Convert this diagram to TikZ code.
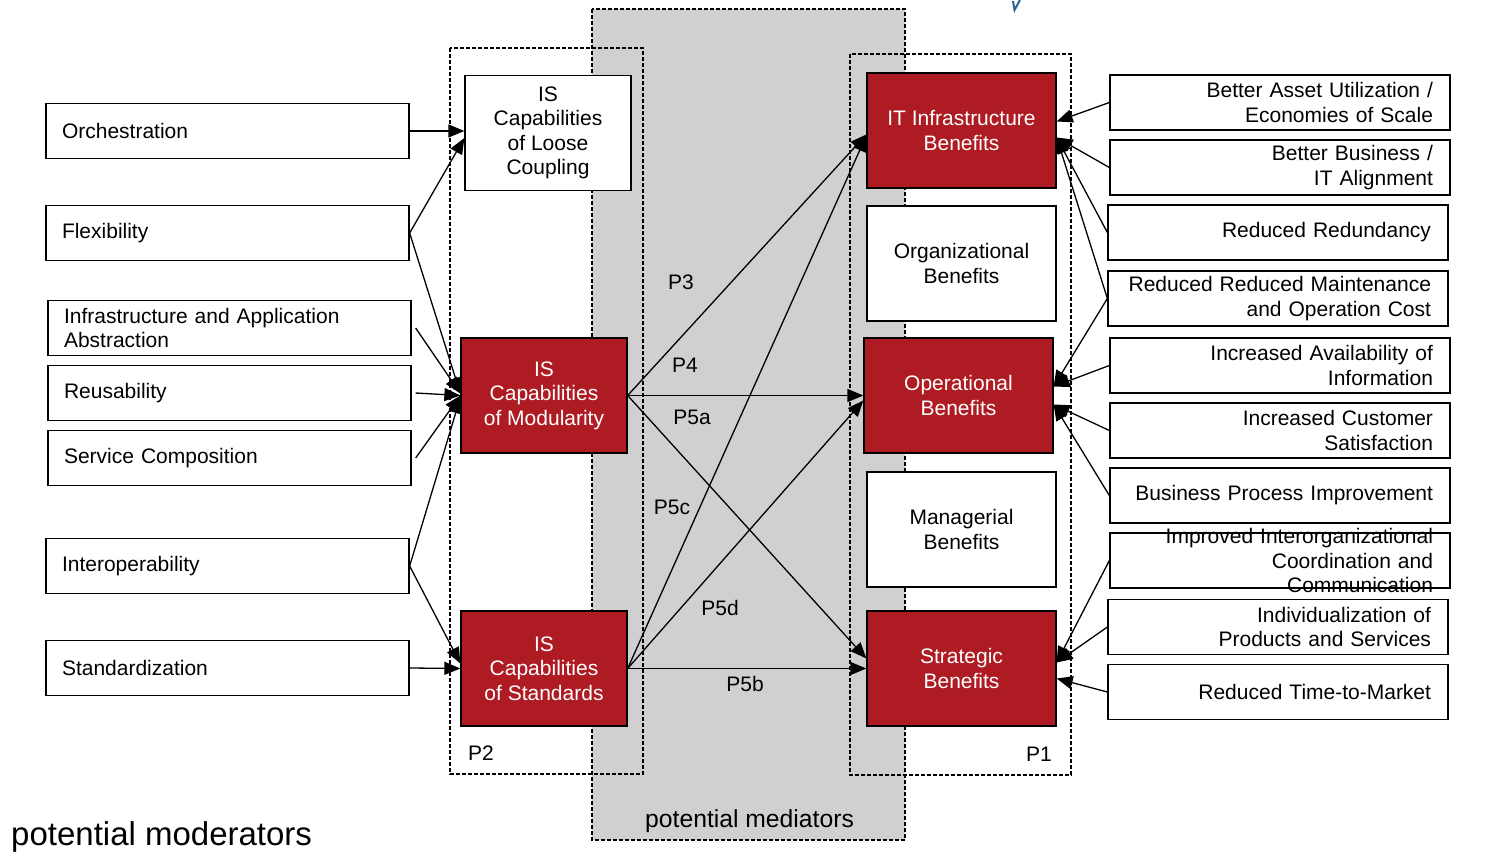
\documentclass[tikz,border=0pt]{standalone}
\usepackage{fontspec}
\setmainfont{Liberation Sans}
\usetikzlibrary{positioning,arrows.meta}
\definecolor{capred}{RGB}{174,27,35}
\definecolor{medgrey}{RGB}{208,208,208}
\definecolor{penblue}{RGB}{40,100,150}

\begin{document}
\begin{tikzpicture}
[x=1pt, y=-1pt, on grid, node distance=65pt,
 font=\fontsize{21}{24.5}\selectfont,
 box/.style={draw, fill=white, line width=1.3pt, inner ysep=0pt},
 factor/.style={box, minimum height=55pt, text width=331pt, inner xsep=16pt, align=left},
 effect/.style={box, minimum height=55pt, text width=306pt, inner xsep=17pt, align=right},
 capab/.style={box, minimum width=166pt, minimum height=115pt, align=center},
 benefit/.style={box, minimum width=189pt, minimum height=115pt, align=center},
 hilite/.style={fill=capred, text=white},
 conn/.style={-{Triangle[length=16pt,width=13pt]}, line width=1.3pt},
 zone/.style={draw, line width=1.2pt, dash pattern=on 4pt off 2pt}]

\useasboundingbox (0,0) rectangle (1498,858);

\fill[medgrey] (592,9) rectangle (905,840);
\draw[zone] (592,9) rectangle (905,840);
\draw[zone] (450,48) rectangle (643,774);
\draw[zone] (850,54) rectangle (1071,775);

\node[factor] (orch) at (227.5,131) {Orchestration};
\node[factor, below=102pt of orch] (flex) {Flexibility};
\node[factor, below=95pt of flex, xshift=2pt] (abstr) {Infrastructure and Application\\Abstraction};
\node[factor, below=of abstr] (reuse) {Reusability};
\node[factor, below=of reuse] (servcomp) {Service Composition};
\node[factor, below=108pt of servcomp, xshift=-2pt] (interop) {Interoperability};
\node[factor, below=102pt of interop] (standard) {Standardization};

\node[capab] (loose) at (548,133) {IS\\Capabilities\\of Loose\\Coupling};
\node[capab, hilite] (modul) at (544,395.5) {IS\\Capabilities\\of Modularity};
\node[capab, hilite, below=273pt of modul] (stds) {IS\\Capabilities\\of Standards};

\node[benefit, hilite] (itinfra) at (961.5,130.5) {IT Infrastructure\\Benefits};
\node[benefit, below=133pt of itinfra] (orga) {Organizational\\Benefits};
\node[benefit, hilite, below=132pt of orga, xshift=-3pt] (oper) {Operational\\Benefits};
\node[benefit, below=134pt of oper, xshift=3pt] (manag) {Managerial\\Benefits};
\node[benefit, hilite, below=139pt of manag] (strat) {Strategic\\Benefits};

\node[effect] (asset) at (1280,102.5) {Better Asset Utilization /\\Economies of Scale};
\node[effect, below=of asset] (alignm) {Better Business /\\IT Alignment};
\node[effect, below=of alignm, xshift=-2pt] (redund) {Reduced Redundancy};
\node[effect, below=66pt of redund] (maint) {Reduced Reduced Maintenance\\and Operation Cost};
\node[effect, below=67pt of maint, xshift=2pt] (avail) {Increased Availability of\\Information};
\node[effect, below=of avail] (custom) {Increased Customer\\Satisfaction};
\node[effect, below=of custom] (bpi) {Business Process Improvement};
\node[effect, below=of bpi] (interorg) {};
\node[text width=306pt, inner xsep=17pt, align=right] (interorgtext) at (interorg) {Improved Interorganizational\\Coordination and\\Communication};
\node[effect, below=66.5pt of interorg, xshift=-2pt] (indiv) {Individualization of\\Products and Services};
\node[effect, below=of indiv] (ttm) {Reduced Time-to-Market};

\draw[conn] (orch.east) -- ([yshift=2pt]loose.west);
\draw[conn] (flex.east) -- ([yshift=-5pt]loose.west);
\draw[conn] (flex.east) -- ([yshift=2pt]modul.west);
\draw[conn] ([xshift=4pt]abstr.east) -- ([yshift=2pt]modul.west);
\draw[conn] ([xshift=4pt]reuse.east) -- (modul.west);
\draw[conn] ([xshift=4pt]servcomp.east) -- (modul.west);
\draw[conn] (interop.east) -- ([yshift=-2pt]modul.west);
\draw[conn] (interop.east) -- ([yshift=5pt]stds.west);
\draw[conn] (standard.east) -- (stds.west);

\draw[conn] (modul.east) -- ([yshift=-4pt]itinfra.west);
\draw[conn] (modul.east) -- (oper.west);
\draw[conn] (modul.east) -- ([yshift=10pt]strat.west);
\draw[conn] (stds.east) -- ([yshift=-5pt]itinfra.west);
\draw[conn] (stds.east) -- ([yshift=-5pt]oper.west);
\draw[conn] (stds.east) -- (strat.west);

\draw[conn] (asset.west) -- ([yshift=9pt]itinfra.east);
\draw[conn] (alignm.west) -- ([yshift=-7pt]itinfra.east);
\draw[conn] (redund.west) -- ([yshift=-7pt]itinfra.east);
\draw[conn] (maint.west) -- ([yshift=-7pt]itinfra.east);
\draw[conn] (maint.west) -- ([yshift=9pt]oper.east);
\draw[conn] (avail.west) -- ([yshift=9pt]oper.east);
\draw[conn] (custom.west) -- ([yshift=-9pt]oper.east);
\draw[conn] (bpi.west) -- ([yshift=-9pt]oper.east);
\draw[conn] (interorg.west) -- ([yshift=6pt]strat.east);
\draw[conn] (indiv.west) -- ([yshift=6pt]strat.east);
\draw[conn] (ttm.west) -- ([yshift=-10pt]strat.east);

\node (p3) at (681,282) {P3};
\node (p4) at (685,365) {P4};
\node (p5a) at (692,417) {P5a};
\node (p5c) at (672,507) {P5c};
\node (p5d) at (720,608) {P5d};
\node (p5b) at (745,684) {P5b};
\node (p2) at (481,753) {P2};
\node (p1) at (1039,754) {P1};

\node[anchor=base west, inner sep=0pt, font=\fontsize{24.7}{28}\selectfont] (mediators) at (645,827) {potential mediators};
\node[anchor=base west, inner sep=0pt, font=\fontsize{33}{38}\selectfont] (moderators) at (11,845) {potential moderators};

\draw[penblue, line width=2pt] (1013,1) -- (1014.5,10) -- (1020,0);

\end{tikzpicture}
\end{document}
